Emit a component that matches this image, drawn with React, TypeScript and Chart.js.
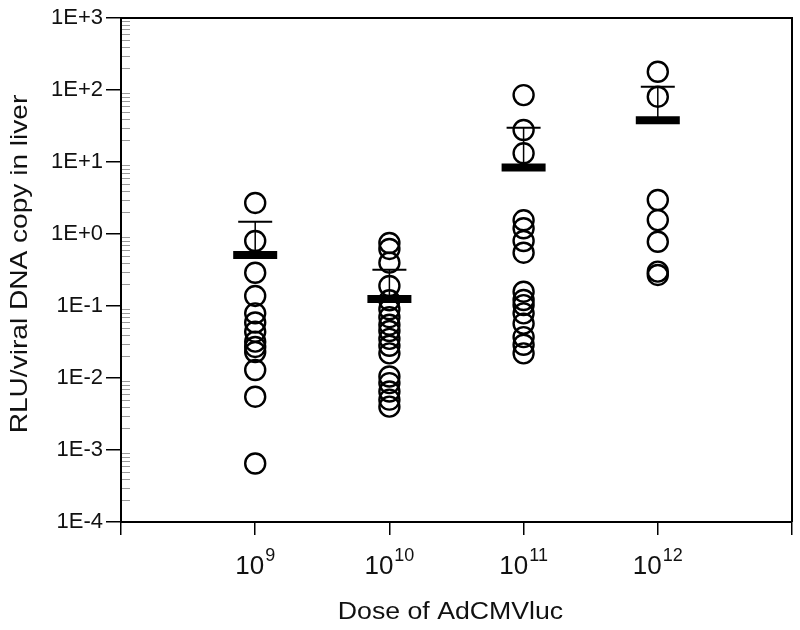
import React, { useEffect, useRef } from "react";
import { Chart, registerables } from "chart.js";

Chart.register(...registerables);

const FONT = '"Liberation Sans", Arial, Helvetica, sans-serif';

// Categories (dose index) and their exponent labels (10^n)
const categories = [1, 2, 3, 4];
const exponents = ["9", "10", "11", "12"];

// Axis titles
const xTitle = "Dose of AdCMVluc";
const yTitle = "RLU/viral DNA copy in liver";

// Individual measurements (RLU / viral DNA copy in liver)
const dose9 = [2.7, 0.8, 0.29, 0.138, 0.079, 0.059, 0.044, 0.032, 0.027, 0.023, 0.0129, 0.0055, 0.00065];
const dose10 = [0.75, 0.62, 0.4, 0.19, 0.12, 0.09, 0.07, 0.055, 0.045, 0.035, 0.028, 0.022, 0.0105, 0.0085, 0.0065, 0.005, 0.004];
const dose11 = [85, 27.8, 13.2, 1.55, 1.2, 0.8, 0.55, 0.158, 0.121, 0.103, 0.079, 0.057, 0.037, 0.029, 0.022];
const dose12 = [179, 80.7, 2.97, 1.56, 0.78, 0.3, 0.27];

// Group means and upper error limits
const means = [0.51, 0.125, 8.4, 38];
const upper = [1.48, 0.32, 30, 111];

// Y tick decades
const yDecades = [-4, -3, -2, -1, 0, 1, 2, 3];

const groups = [dose9, dose10, dose11, dose12];

const decorPlugin = {
  id: "decor",
  afterDraw(chart: any) {
    const { ctx, chartArea, scales } = chart;
    const xs = scales.x;
    const ys = scales.y;
    ctx.save();
    // minor log ticks inside the plot
    ctx.strokeStyle = "#9a9a9a";
    ctx.lineWidth = 1;
    for (let d = yDecades[0]; d < yDecades[yDecades.length - 1]; d++) {
      for (let m = 2; m <= 9; m++) {
        const y = Math.round(ys.getPixelForValue(m * Math.pow(10, d))) + 0.5;
        ctx.beginPath();
        ctx.moveTo(chartArea.left + 1, y);
        ctx.lineTo(chartArea.left + 9, y);
        ctx.stroke();
      }
    }
    // top and right frame
    ctx.strokeStyle = "#000";
    ctx.lineWidth = 2;
    ctx.beginPath();
    ctx.moveTo(chartArea.left, chartArea.top);
    ctx.lineTo(chartArea.right, chartArea.top);
    ctx.lineTo(chartArea.right, chartArea.bottom);
    ctx.stroke();
    // x tick labels 10^n
    const big = `26px ${FONT}`;
    const small = `18px ${FONT}`;
    ctx.fillStyle = "#111";
    ctx.textAlign = "left";
    ctx.textBaseline = "alphabetic";
    const base = chartArea.bottom + 52;
    categories.forEach((c, i) => {
      const x = xs.getPixelForValue(c);
      ctx.font = big;
      const w1 = ctx.measureText("10").width;
      ctx.font = small;
      const w2 = ctx.measureText(exponents[i]).width;
      const start = x - (w1 + w2 + 1) / 2;
      ctx.font = big;
      ctx.fillText("10", start, base);
      ctx.font = small;
      ctx.fillText(exponents[i], start + w1 + 1, base - 13);
    });
    // axis titles (reference glyphs are wide)
    ctx.textAlign = "center";
    ctx.textBaseline = "alphabetic";
    ctx.save();
    ctx.font = `23px ${FONT}`;
    ctx.translate((chartArea.left + chartArea.right) / 2 - 6, chartArea.bottom + 97);
    ctx.scale(1.16, 1);
    ctx.fillText(xTitle, 0, 0);
    ctx.restore();
    ctx.save();
    ctx.font = `24px ${FONT}`;
    ctx.translate(27, (chartArea.top + chartArea.bottom) / 2 - 6);
    ctx.rotate(-Math.PI / 2);
    ctx.scale(1.17, 1);
    ctx.fillText(yTitle, 0, 0);
    ctx.restore();
    ctx.restore();
  },
};

export default function App() {
  const ref = useRef<HTMLCanvasElement>(null);

  useEffect(() => {
    document.body.style.margin = "0";
    const canvas = ref.current;
    if (!canvas) return;

    const errorLine: any[] = [];
    categories.forEach((c, i) => {
      errorLine.push({ x: c, y: means[i] });
      errorLine.push({ x: c, y: upper[i] });
      errorLine.push({ x: c, y: null });
    });

    const pointData: any[] = [];
    groups.forEach((g, i) => g.forEach((v) => pointData.push({ x: categories[i], y: v })));

    const chart = new Chart(canvas, {
      type: "scatter",
      data: {
        datasets: [
          {
            label: "mean",
            data: categories.map((c, i) => ({ x: c, y: means[i] })),
            pointStyle: "line",
            pointRadius: 22,
            borderWidth: 8,
            borderColor: "#000",
            backgroundColor: "#000",
          } as any,
          {
            label: "cap",
            data: categories.map((c, i) => ({ x: c, y: upper[i] })),
            pointStyle: "line",
            pointRadius: 17,
            borderWidth: 2,
            borderColor: "#000",
            backgroundColor: "#000",
          } as any,
          {
            label: "err",
            data: errorLine,
            showLine: true,
            spanGaps: false,
            pointRadius: 0,
            borderWidth: 1.5,
            borderColor: "#000",
          } as any,
          {
            label: "values",
            data: pointData,
            pointStyle: "circle",
            pointRadius: 10,
            borderWidth: 2.4,
            borderColor: "#000",
            backgroundColor: "rgba(0,0,0,0)",
          } as any,
        ],
      },
      options: {
        animation: false,
        responsive: false,
        devicePixelRatio: 1,
        layout: { autoPadding: false, padding: { top: 18, right: 8, left: 0, bottom: 0 } },
        plugins: { legend: { display: false }, tooltip: { enabled: false } },
        scales: {
          x: {
            type: "linear",
            min: 0,
            max: 5,
            afterBuildTicks: (s: any) => {
              s.ticks = [0, 1, 2, 3, 4, 5].map((v) => ({ value: v }));
            },
            afterFit: (s: any) => {
              s.height = 108;
              s.paddingLeft = 0;
              s.paddingRight = 0;
            },
            ticks: { display: false },
            grid: { drawOnChartArea: false, drawTicks: true, tickLength: 13, color: "#000", lineWidth: 1.5 },
            border: { display: true, color: "#000", width: 2 },
          },
          y: {
            type: "logarithmic",
            min: 1e-4,
            max: 1e3,
            afterBuildTicks: (s: any) => {
              s.ticks = yDecades.map((d) => ({ value: Math.pow(10, d) }));
            },
            afterFit: (s: any) => {
              s.width = 121;
              s.paddingTop = 0;
              s.paddingBottom = 0;
            },
            ticks: {
              color: "#111",
              padding: 3,
              font: { family: FONT, size: 22 },
              callback: (v: any) => {
                const e = Math.round(Math.log10(Number(v)));
                return "1E" + (e >= 0 ? "+" : "-") + Math.abs(e);
              },
            },
            grid: { drawOnChartArea: false, drawTicks: true, tickLength: 15, color: "#000", lineWidth: 1.5 },
            border: { display: true, color: "#000", width: 2 },
          },
        },
      },
      plugins: [decorPlugin],
    });
    return () => chart.destroy();
  }, []);

  return (
    <div style={{ width: 800, height: 630 }}>
      <canvas ref={ref} width={800} height={630} style={{ display: "block" }} />
    </div>
  );
}
